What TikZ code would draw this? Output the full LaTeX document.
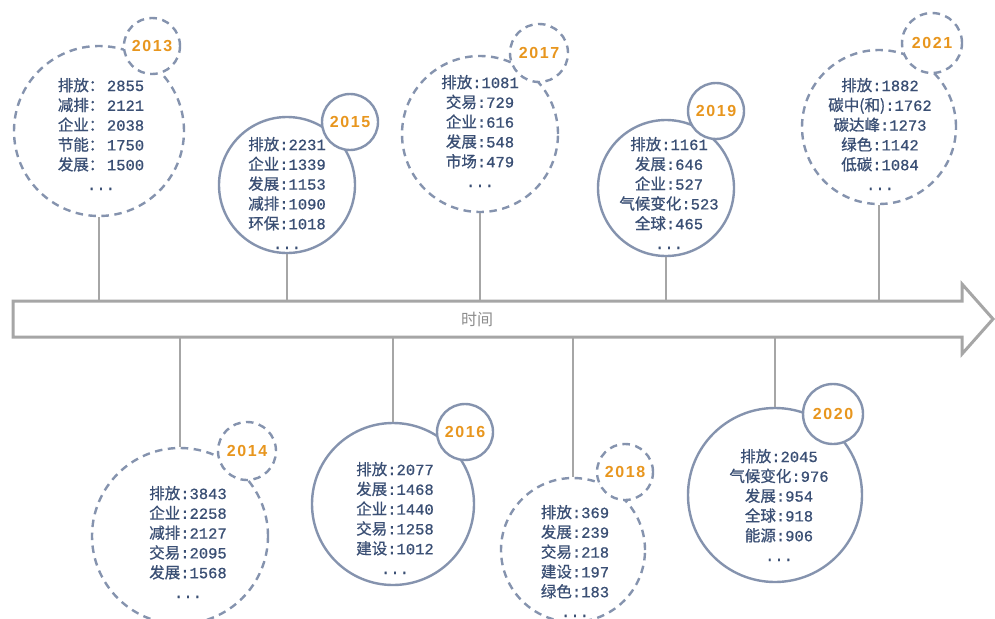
\documentclass[tikz,border=0pt]{standalone}
\usepackage{fontspec}
\setmainfont{Liberation Serif}
\setmonofont[FakeBold=0.8]{Liberation Mono}
\newfontfamily\cjk[FakeBold=0.8]{Noto Sans CJK SC}
\newfontfamily\cjklab{Noto Sans CJK SC}
\newfontfamily\yearfont[LetterSpace=10]{Liberation Sans}
\definecolor{ring}{HTML}{8593AE}
\definecolor{txtc}{HTML}{3A4F74}
\definecolor{yearc}{HTML}{E8961E}
\definecolor{axisc}{HTML}{A6A6A6}
\definecolor{labc}{HTML}{8C8C8C}
\newcommand\kv[2]{{\cjk #1}{\ttfamily :#2}}
\newcommand\kvw[2]{{\cjk #1：}{\ttfamily\,#2}}
\newcommand\mydots{{\ttfamily ...}}
\tikzset{
  bigc/.style={circle, draw=ring, line width=2.4pt, minimum size=#1pt, inner sep=0pt},
  smallc/.style={circle, draw=ring, fill=white, line width=2.4pt, minimum size=#1pt, inner sep=0pt},
  dashring/.style={dash pattern=on 7.5pt off 5.5pt},
  yr/.style={font=\yearfont\bfseries\fontsize{16}{18}\selectfont, text=yearc, inner sep=0pt},
  txt/.style={align=center, text=txtc, font=\fontsize{15.5}{19.8}\selectfont, inner sep=0pt},
  conn/.style={draw=axisc, line width=2pt},
  axisline/.style={draw=axisc, line width=3pt, fill=white, line join=miter}
}
\begin{document}
\begin{tikzpicture}[x=1pt,y=-1pt]
\useasboundingbox (0,0) rectangle (995,618);
\fill[white] (0,0) rectangle (995,618);
\coordinate (axT) at (0,301);
\coordinate (axB) at (0,337);
% circles (top)
\node[bigc=170, dashring] (b13) at (99,131) {};
\node[bigc=136] (b15) at (287,185) {};
\node[bigc=156, dashring] (b17) at (480,134) {};
\node[bigc=136] (b19) at (666,188) {};
\node[bigc=154, dashring] (b21) at (879,127) {};
% circles (bottom)
\node[bigc=176, dashring] (b14) at (180,536) {};
\node[bigc=162] (b16) at (393,504) {};
\node[bigc=144, dashring] (b18) at (573,550) {};
\node[bigc=174] (b20) at (775,495) {};
% connectors
\draw[conn] (b13.south) -- (b13.south |- axT);
\draw[conn] (b15.south) -- (b15.south |- axT);
\draw[conn] (b17.south) -- (b17.south |- axT);
\draw[conn] (b19.south) -- ([yshift=-4pt]b19.south |- axT);
\draw[conn] (b21.south) -- (b21.south |- axT);
\draw[conn] (b14.north) -- (b14.north |- axB);
\draw[conn] (b16.north) -- (b16.north |- axB);
\draw[conn] (b18.north) -- (b18.north |- axB);
\draw[conn] (b20.north) -- (b20.north |- axB);
% axis arrow
\draw[axisline] (13,301) -- (962,301) -- (962,284) -- (993,319) -- (962,354) -- (962,337) -- (13,337) -- cycle;
\node[text=labc, font=\cjklab\fontsize{16}{18}\selectfont, inner sep=0pt] (lab) at (477,319) {时间};
% small circles
\node[smallc=56, dashring] (s13) at (152,46) {};
\node[smallc=56] (s15) at (350,122) {};
\node[smallc=58, dashring] (s17) at (539,53) {};
\node[smallc=56] (s19) at (716,111) {};
\node[smallc=60, dashring] (s21) at (932,43) {};
\node[smallc=58, dashring] (s14) at (247,451) {};
\node[smallc=56] (s16) at (465,432) {};
\node[smallc=56, dashring] (s18) at (625,472) {};
\node[smallc=60] (s20) at (833,414) {};
% years
\node[yr] (y13) at (s13) {2013};
\node[yr] (y15) at (s15) {2015};
\node[yr] (y17) at (s17) {2017};
\node[yr] (y19) at (s19) {2019};
\node[yr] (y21) at (s21) {2021};
\node[yr] (y14) at (s14) {2014};
\node[yr] (y16) at (s16) {2016};
\node[yr] (y18) at (s18) {2018};
\node[yr] (y20) at (s20) {2020};
% texts
\node[txt] (t13) at (101,134) {\kvw{排放}{2855}\\\kvw{减排}{2121}\\\kvw{企业}{2038}\\\kvw{节能}{1750}\\\kvw{发展}{1500}\\\mydots};
\node[txt] (t15) at (287,193) {\kv{排放}{2231}\\\kv{企业}{1339}\\\kv{发展}{1153}\\\kv{减排}{1090}\\\kv{环保}{1018}\\\mydots};
\node[txt] (t17) at (480,131) {\kv{排放}{1081}\\\kv{交易}{729}\\\kv{企业}{616}\\\kv{发展}{548}\\\kv{市场}{479}\\\mydots};
\node[txt] (t19) at (669,193) {\kv{排放}{1161}\\\kv{发展}{646}\\\kv{企业}{527}\\\kv{气候变化}{523}\\\kv{全球}{465}\\\mydots};
\node[txt] (t21) at (880,134) {\kv{排放}{1882}\\\kv{碳中(和)}{1762}\\\kv{碳达峰}{1273}\\\kv{绿色}{1142}\\\kv{低碳}{1084}\\\mydots};
\node[txt] (t14) at (188,542) {\kv{排放}{3843}\\\kv{企业}{2258}\\\kv{减排}{2127}\\\kv{交易}{2095}\\\kv{发展}{1568}\\\mydots};
\node[txt] (t16) at (395,518) {\kv{排放}{2077}\\\kv{发展}{1468}\\\kv{企业}{1440}\\\kv{交易}{1258}\\\kv{建设}{1012}\\\mydots};
\node[txt] (t18) at (575,561) {\kv{排放}{369}\\\kv{发展}{239}\\\kv{交易}{218}\\\kv{建设}{197}\\\kv{绿色}{183}\\\mydots};
\node[txt] (t20) at (779,505) {\kv{排放}{2045}\\\kv{气候变化}{976}\\\kv{发展}{954}\\\kv{全球}{918}\\\kv{能源}{906}\\\mydots};
\end{tikzpicture}
\end{document}
